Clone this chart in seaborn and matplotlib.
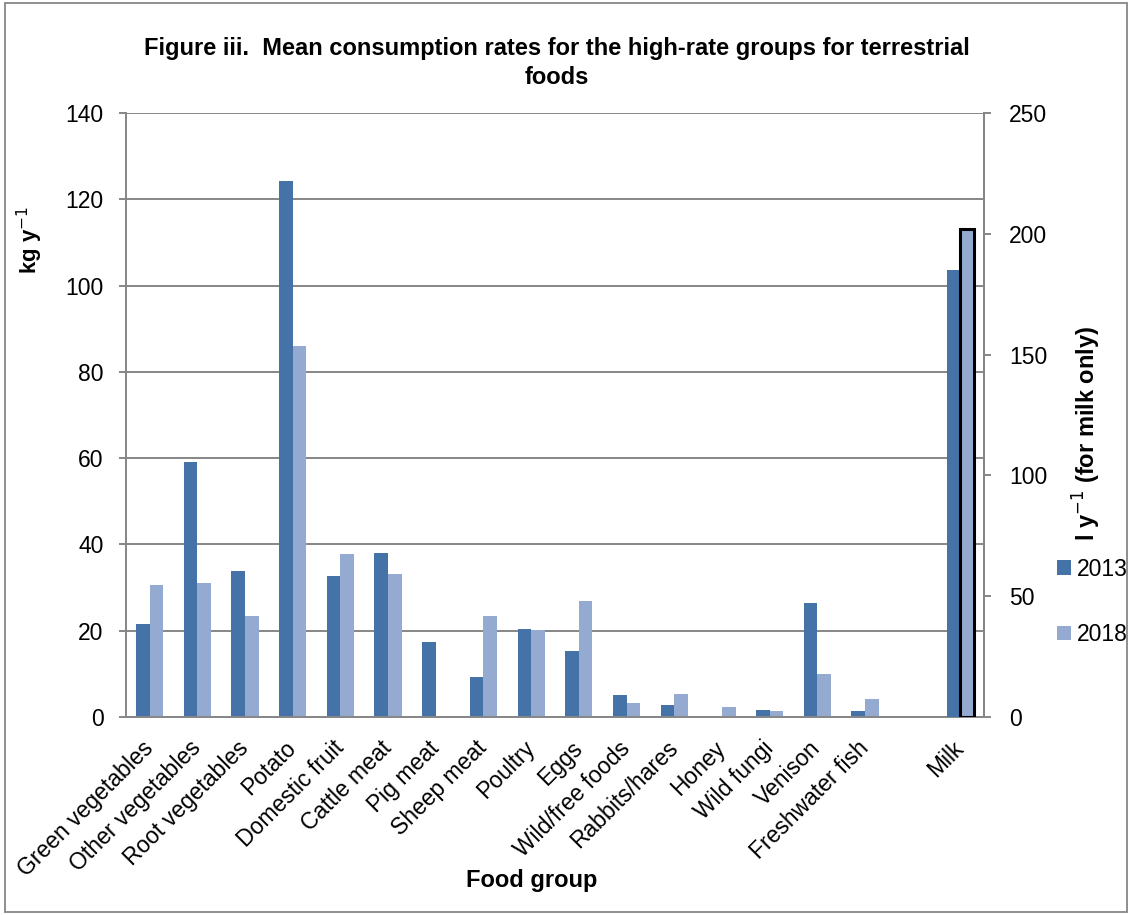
import numpy as np
import pandas as pd
import matplotlib
matplotlib.use("Agg")
import matplotlib.pyplot as plt
from matplotlib.patches import Patch, Rectangle
from matplotlib import font_manager
import seaborn as sns

# ---------------- data ----------------
foods = ["Green vegetables", "Other vegetables", "Root vegetables", "Potato",
         "Domestic fruit", "Cattle meat", "Pig meat", "Sheep meat", "Poultry",
         "Eggs", "Wild/free foods", "Rabbits/hares", "Honey", "Wild fungi",
         "Venison", "Freshwater fish"]
vals_2013 = [21.6, 59.0, 33.8, 124.2, 32.7, 38.0, 17.3, 9.3, 20.5, 15.3,
             5.2, 2.8, 0.0, 1.6, 26.5, 1.3]
vals_2018 = [30.5, 31.1, 23.3, 86.0, 37.7, 33.1, 0.0, 23.3, 20.2, 26.8,
             3.2, 5.3, 2.3, 1.5, 10.0, 4.2]
milk_label = "Milk"
milk_2013 = 185.0
milk_2018 = 202.0
years = ["2013", "2018"]
blank = " "
order = foods + [blank, milk_label]
left_ticks = [0, 20, 40, 60, 80, 100, 120, 140]
right_ticks = [0, 50, 100, 150, 200, 250]

c13 = "#4572A7"
c18 = "#95AAD1"
grey = "#868686"

df_main = pd.DataFrame({
    "food": foods * 2,
    "year": [years[0]] * len(foods) + [years[1]] * len(foods),
    "value": vals_2013 + vals_2018,
})
df_milk = pd.DataFrame({"food": [milk_label, milk_label],
                        "year": years, "value": [milk_2013, milk_2018]})

# ---------------- fonts ----------------
sns.set_style("white")
installed = {f.name for f in font_manager.fontManager.ttflist}
base_font = "Liberation Sans" if "Liberation Sans" in installed else "DejaVu Sans"
title_font = "Liberation Sans Narrow" if "Liberation Sans Narrow" in installed else base_font
title_size = 18.5 if title_font == "Liberation Sans Narrow" else 17
plt.rcParams["font.family"] = [base_font, "DejaVu Sans"]
plt.rcParams["text.color"] = "black"
plt.rcParams["axes.labelcolor"] = "black"
plt.rcParams["xtick.color"] = "black"
plt.rcParams["ytick.color"] = "black"

fig = plt.figure(figsize=(11.32, 9.15), dpi=100)
ax = fig.add_axes([125.7 / 1132, (915 - 717) / 915, (984.3 - 125.7) / 1132, (717 - 113) / 915])

sns.barplot(data=df_main, x="food", y="value", hue="year", order=order,
            hue_order=years, palette=[c13, c18], width=0.57, saturation=1,
            errorbar=None, linewidth=0, legend=False, ax=ax)
ax.set_axisbelow(True)

ax2 = ax.twinx()
sns.barplot(data=df_milk, x="food", y="value", hue="year", order=order,
            hue_order=years, palette=[c13, c18], width=0.57, saturation=1,
            errorbar=None, linewidth=0, legend=False, ax=ax2)
# black outline on the 2018 milk bar
bars2 = [p for p in ax2.patches if isinstance(p, Rectangle)]
if len(bars2) >= 2:
    bars2[1].set_edgecolor("black")
    bars2[1].set_linewidth(2.2)

# ---------------- axes ----------------
ax.set_ylim(0, 140)
ax.set_yticks(left_ticks)
ax2.set_ylim(0, 250)
ax2.set_yticks(right_ticks)
ax.set_xlim(-0.5, len(order) - 0.5)
ax2.set_xlim(-0.5, len(order) - 0.5)

ax.yaxis.grid(True, color=grey, lw=1.4)
ax.xaxis.grid(False)
ax2.grid(False)

for a in (ax, ax2):
    for s in a.spines.values():
        s.set_color(grey)
        s.set_linewidth(1.4)
    a.spines["top"].set_visible(False)
ax2.spines["left"].set_visible(False)
ax2.spines["bottom"].set_visible(False)

ax.set_xticks(range(len(order)))
ax.set_xticklabels(order, rotation=45, ha="right", va="center",
                   rotation_mode="anchor", fontsize=16.5)
ax.set_xticks(np.arange(-0.5, len(order), 1), minor=True)
ax.tick_params(axis="x", which="major", length=0, pad=20, labelcolor="black")
ax.tick_params(axis="x", which="minor", length=6, width=1.4, color=grey, direction="out")
ax.tick_params(axis="y", which="major", length=5, width=1.4, color=grey,
               direction="out", labelsize=16.5, pad=11, left=True, labelcolor="black")
ax2.tick_params(axis="y", which="major", length=5, width=1.4, color=grey,
                direction="out", labelsize=16.5, pad=13, right=True, labelcolor="black")
ax2.tick_params(axis="x", which="both", length=0, labelbottom=False)

ax.set_ylabel("kg y$^{-1}$", fontsize=16, fontweight="bold", color="black")
ax.yaxis.set_label_coords(-0.094, 0.79)
ax2.set_ylabel("l y$^{-1}$ (for milk only)", fontsize=17, fontweight="bold", color="black")
ax2.yaxis.set_label_coords(1.101, 0.47)
ax.set_xlabel("Food group", fontsize=17, fontweight="bold", va="center", color="black")
ax.xaxis.set_label_coords(0.473, -0.27)

fig.text(0.492, 1 - 48 / 915,
         "Figure iii.  Mean consumption rates for the high-rate groups for terrestrial",
         ha="center", va="center", fontsize=title_size, fontweight="bold",
         color="black", family=[title_font, "DejaVu Sans"])
fig.text(0.492, 1 - 78 / 915, "foods", ha="center", va="center", fontsize=title_size,
         fontweight="bold", color="black", family=[title_font, "DejaVu Sans"])

handles = [Patch(facecolor=c13, edgecolor="none"), Patch(facecolor=c18, edgecolor="none")]
fig.legend(handles, years, loc="center left", bbox_to_anchor=(1046 / 1132, 1 - 602 / 915),
           frameon=False, fontsize=16.5, handlelength=0.6, handleheight=0.6,
           handletextpad=0.25, labelspacing=1.85, borderpad=0, labelcolor="black")

fig.patches.append(Rectangle((0.004, 0.003), 0.992, 0.994, transform=fig.transFigure,
                             fill=False, edgecolor=grey, lw=1.3))

fig.savefig("out.png", dpi=100)
